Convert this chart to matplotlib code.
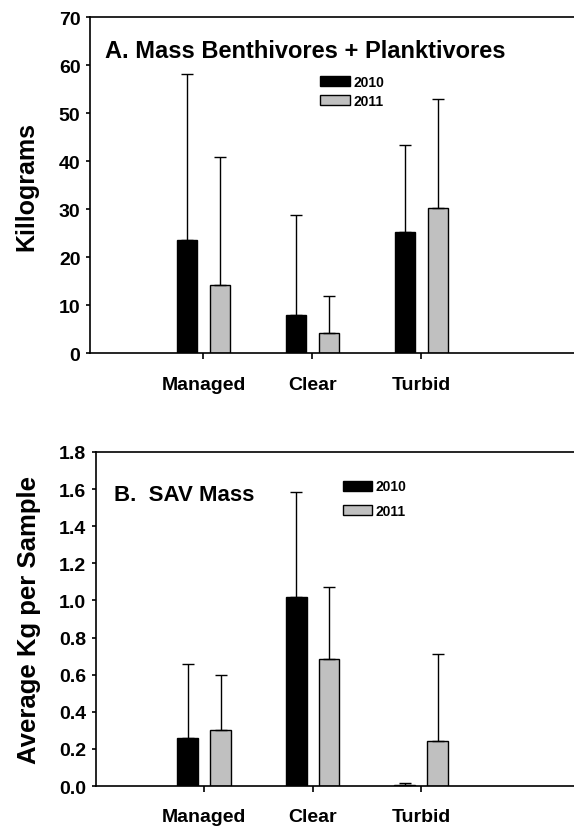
import numpy as np
import matplotlib
matplotlib.use("Agg")
import matplotlib.pyplot as plt

plt.rcParams['font.family'] = ['Liberation Sans', 'DejaVu Sans']
plt.rcParams['font.weight'] = 'bold'

# data
sites = ['Managed', 'Clear', 'Turbid']
years = ['2010', '2011']

fish_2010 = [23.6, 7.9, 25.3]
fish_2011 = [14.2, 4.3, 30.2]
fish_err_2010 = [34.6, 21.0, 18.0]
fish_err_2011 = [26.7, 7.6, 22.7]

sav_2010 = [0.261, 1.017, 0.008]
sav_2011 = [0.302, 0.684, 0.241]
sav_err_2010 = [0.396, 0.565, 0.006]
sav_err_2011 = [0.294, 0.387, 0.468]

fig = plt.figure(figsize=(5.74, 8.28), dpi=100)
axA = fig.add_axes([0.157, 0.572, 0.843, 0.406])
axB = fig.add_axes([0.167, 0.0495, 0.833, 0.4035])

x = np.arange(len(sites))
w = 0.19
off = 0.152


def draw(ax, v1, v2, e1, e2):
    ax.bar(x - off, v1, w, color='black', edgecolor='black', lw=1, label=years[0])
    ax.bar(x + off, v2, w, color='#c0c0c0', edgecolor='black', lw=1, label=years[1])
    ax.errorbar(x - off, v1, yerr=[np.zeros(3), e1], fmt='none', ecolor='black',
                elinewidth=1, capsize=4.3, capthick=1)
    ax.errorbar(x + off, v2, yerr=[np.zeros(3), e2], fmt='none', ecolor='black',
                elinewidth=1, capsize=4.3, capthick=1)
    ax.set_xticks(x)
    ax.set_xticklabels(sites, fontsize=14, fontweight='bold')
    ax.spines['right'].set_visible(False)
    for s in ['left', 'bottom', 'top']:
        ax.spines[s].set_linewidth(1.2)
    ax.tick_params(axis='x', length=4, width=1.2, pad=12)
    ax.tick_params(axis='y', length=3, width=1.2, labelsize=14, pad=4)
    for t in ax.get_yticklabels():
        t.set_fontweight('bold')


draw(axA, fish_2010, fish_2011, fish_err_2010, fish_err_2011)
axA.set_xlim(-1.04, 3.4)
axA.set_ylim(0, 70)
axA.set_yticks(range(0, 71, 10))
axA.set_ylabel('Killograms', fontsize=18, fontweight='bold', labelpad=15)
axA.text(0.031, 0.881, 'A. Mass Benthivores + Planktivores', transform=axA.transAxes,
         fontsize=17, fontweight='bold', va='baseline')
axA.legend(loc='upper left', bbox_to_anchor=(0.45, 0.865), frameon=False,
           prop={'size': 10, 'weight': 'bold'}, handlelength=2.1, handleheight=0.75,
           labelspacing=0.35, handletextpad=0.3)

draw(axB, sav_2010, sav_2011, sav_err_2010, sav_err_2011)
axB.set_xlim(-1.0, 3.41)
axB.set_ylim(0, 1.8)
axB.set_yticks(np.arange(0, 1.81, 0.2))
axB.set_yticklabels(['%.1f' % v for v in np.arange(0, 1.81, 0.2)], fontweight='bold')
axB.set_ylabel('Average Kg per Sample', fontsize=18.5, fontweight='bold', labelpad=13)
axB.text(0.037, 0.856, 'B.  SAV Mass', transform=axB.transAxes,
         fontsize=16, fontweight='bold', va='baseline')
axB.legend(loc='upper left', bbox_to_anchor=(0.49, 0.955), frameon=False,
           prop={'size': 10, 'weight': 'bold'}, handlelength=2.1, handleheight=0.75,
           labelspacing=0.75, handletextpad=0.3)

fig.savefig('out.png', dpi=100)
